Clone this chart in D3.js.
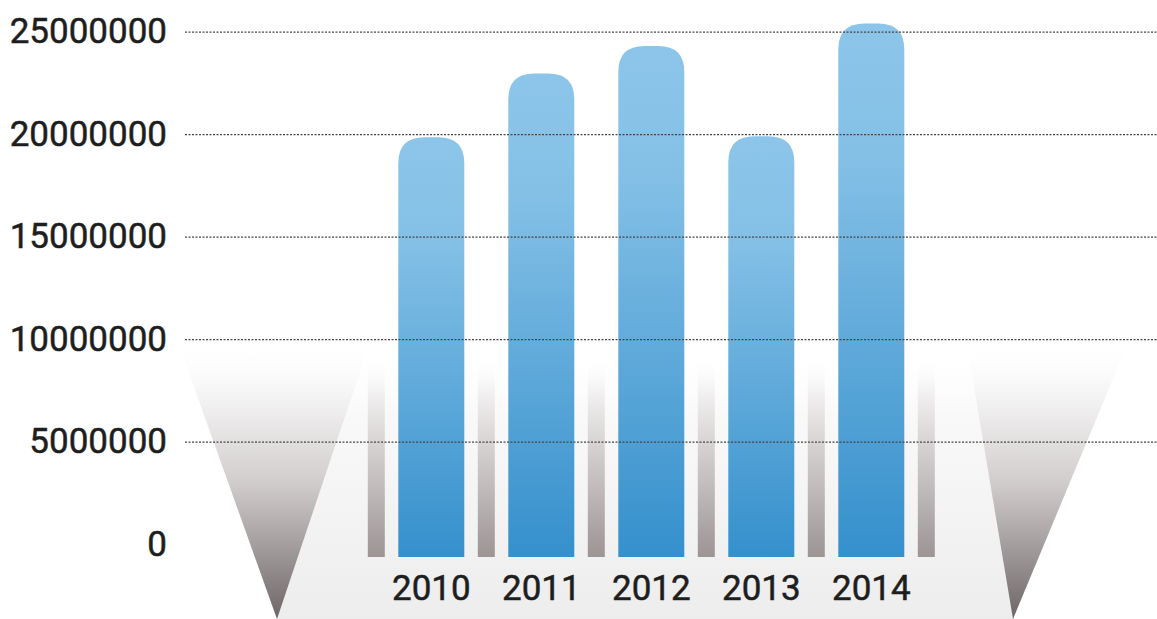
<!DOCTYPE html>
<html>
<head>
<meta charset="utf-8">
<script src="https://cdn.jsdelivr.net/npm/d3@7"></script>
<style>
  html, body { margin: 0; padding: 0; background: #ffffff; }
  svg { display: block; }
  .tick text { font-family: Roboto, "DejaVu Sans", sans-serif; font-weight: 400; font-size: 35px; fill: #1e1e1e; stroke: #1e1e1e; stroke-width: 0.5px; }
</style>
</head>
<body>
<svg id="drawing_region"></svg>
<script>
// data
const years = ['2010', '2011', '2012', '2013', '2014'];
const values = [19850000, 22960000, 24300000, 19900000, 25400000];
const yTicks = [0, 5000000, 10000000, 15000000, 20000000, 25000000];

const width = 1157, height = 619;

const svg = d3.select('#drawing_region')
    .attr('width', width)
    .attr('height', height);

// scales
const x = d3.scaleBand()
    .domain(years)
    .range([376.3, 926.3])
    .paddingInner(0.4)
    .paddingOuter(0.2);

const y = d3.scaleLinear()
    .domain([0, 25000000])
    .range([544, 31.7]);

const floorY = y(0) + 13;   // bars run a bit below zero, like the original art
const gap = x.step() * x.paddingInner();

// gradients
const defs = svg.append('defs');

function vGrad(id, stops) {
    const g = defs.append('linearGradient')
        .attr('id', id)
        .attr('x1', 0).attr('y1', 0).attr('x2', 0).attr('y2', 1);
    stops.forEach(s => {
        g.append('stop')
            .attr('offset', s[0])
            .attr('stop-color', s[1])
            .attr('stop-opacity', s[2] === undefined ? 1 : s[2]);
    });
}
vGrad('floorGrad', [[0, '#ffffff', 0], [0.25, '#f9f9f9'], [1, '#ededed']]);
vGrad('funnelGrad', [[0, '#ffffff', 0], [0.2, '#f3f2f2'], [0.5, '#d2cdcd'], [1, '#6e6666']]);
vGrad('stubGrad', [[0, '#ffffff', 0], [0.2, '#efeded'], [1, '#9d9494']]);
vGrad('barGrad', [[0, '#8cc5e9'], [0.25, '#84c0e6'], [1, '#3590cc']]);

// decoration: floor trapezoid and the two funnel shapes
const topY = y(10000000) + 6;
const bottomY = height;
const leftFunnel = [[179, topY], [369, topY], [277, bottomY]];
const rightFunnel = [[967, topY], [1127, topY], [1013, bottomY]];

svg.append('path')
    .attr('d', d3.line()([leftFunnel[0], rightFunnel[1], rightFunnel[2], leftFunnel[2]]) + 'Z')
    .attr('fill', 'url(#floorGrad)');

svg.selectAll('.funnel')
    .data([leftFunnel, rightFunnel])
    .enter().append('path')
    .attr('class', 'funnel')
    .attr('d', d => d3.line()(d) + 'Z')
    .attr('fill', 'url(#funnelGrad)');

// grey stubs between the bars
const stubs = years.map(d => x(d) - gap / 2).concat([x(years[years.length - 1]) + x.bandwidth() + gap / 2]);
const stubW = 17;
svg.selectAll('.stub')
    .data(stubs)
    .enter().append('rect')
    .attr('class', 'stub')
    .attr('x', d => d - stubW / 2)
    .attr('y', y(9000000) - 2)
    .attr('width', stubW)
    .attr('height', d => floorY - y(9000000) + 2)
    .attr('fill', 'url(#stubGrad)');

// bars with rounded tops
const r = 26;
function barPath(d, i) {
    const x0 = x(years[i]), x1 = x0 + x.bandwidth();
    const top = y(d);
    return `M${x0},${floorY} L${x0},${top + r} Q${x0},${top} ${x0 + r},${top} ` +
        `L${x1 - r},${top} Q${x1},${top} ${x1},${top + r} L${x1},${floorY} Z`;
}
svg.selectAll('.bar')
    .data(values)
    .enter().append('path')
    .attr('class', 'bar')
    .attr('d', barPath)
    .attr('fill', 'url(#barGrad)');

// dotted grid lines (on top of bars)
const grid = svg.append('g')
    .attr('transform', 'translate(185,0)')
    .call(d3.axisRight(y).tickValues(yTicks.filter(v => v > 0)).tickSize(width - 185).tickFormat(''));
grid.select('.domain').remove();
grid.selectAll('line')
    .attr('stroke', '#444')
    .attr('stroke-width', 1.2)
    .attr('stroke-dasharray', '2,1.5');

// y labels
const yAxis = svg.append('g')
    .attr('transform', 'translate(167,0)')
    .call(d3.axisLeft(y).tickValues(yTicks).tickSize(0).tickPadding(0).tickFormat(d3.format('d')));
yAxis.select('.domain').remove();

// x labels
const xAxis = svg.append('g')
    .attr('transform', `translate(0,${floorY})`)
    .call(d3.axisBottom(x).tickSize(0).tickPadding(18));
xAxis.select('.domain').remove();
</script>
</body>
</html>
